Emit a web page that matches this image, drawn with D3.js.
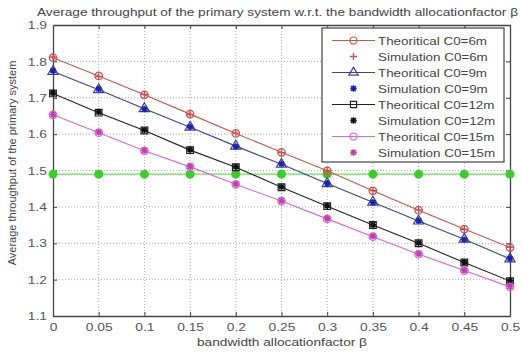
<html>
<head>
<meta charset="utf-8">
<script src="https://d3js.org/d3.v7.min.js"></script>
<style>
 body { margin:0; background:#fff; }
 text { font-family: "Liberation Sans", Arial, sans-serif; }
</style>
</head>
<body>
<div id="output"></div>
<script>
// data
var betas = [0, 0.05, 0.1, 0.15, 0.2, 0.25, 0.3, 0.35, 0.4, 0.45, 0.5];
var xTicks = ["0","0.05","0.1","0.15","0.2","0.25","0.3","0.35","0.4","0.45","0.5"];
var yTicks = [1.1, 1.2, 1.3, 1.4, 1.5, 1.6, 1.7, 1.8, 1.9];
var theo6  = [1.810, 1.760, 1.708, 1.655, 1.602, 1.550, 1.499, 1.444, 1.391, 1.339, 1.288];
var sim6   = [1.812, 1.758, 1.709, 1.654, 1.603, 1.549, 1.500, 1.445, 1.392, 1.338, 1.289];
var theo9  = [1.772, 1.722, 1.670, 1.619, 1.567, 1.517, 1.464, 1.413, 1.361, 1.311, 1.257];
var sim9   = [1.774, 1.724, 1.669, 1.620, 1.566, 1.518, 1.465, 1.412, 1.362, 1.310, 1.258];
var theo12 = [1.712, 1.659, 1.610, 1.556, 1.509, 1.454, 1.402, 1.350, 1.300, 1.247, 1.196];
var sim12  = [1.713, 1.661, 1.611, 1.557, 1.510, 1.455, 1.403, 1.351, 1.301, 1.248, 1.197];
var theo15 = [1.653, 1.604, 1.554, 1.510, 1.462, 1.416, 1.367, 1.318, 1.270, 1.225, 1.180];
var sim15  = [1.654, 1.605, 1.555, 1.511, 1.463, 1.417, 1.368, 1.319, 1.271, 1.226, 1.181];
var primary = [1.49, 1.49, 1.49, 1.49, 1.49, 1.49, 1.49, 1.49, 1.49, 1.49, 1.49];
var labels = ["Theoritical C0=6m","Simulation C0=6m","Theoritical C0=9m","Simulation C0=9m",
              "Theoritical C0=12m","Simulation C0=12m","Theoritical C0=15m","Simulation C0=15m"];

var W = 521, H = 354;
var pLeft = 53, pRight = 510, pTop = 25, pBottom = 316;

var svg = d3.select("#output").append("svg")
  .attr("width", W).attr("height", H);

var x = d3.scaleLinear().domain([0, 0.5]).range([pLeft, pRight]);
var y = d3.scaleLinear().domain([1.1, 1.9]).range([pBottom, pTop]);

// the source image is a bit stretched sideways, so widen text to match
function widen(sel, f) {
  sel.each(function() {
    var w = this.getComputedTextLength();
    d3.select(this).attr("textLength", w * f).attr("lengthAdjust", "spacingAndGlyphs");
  });
}

// grid
svg.append("g").selectAll("line").data(betas.slice(1, -1)).enter().append("line")
  .attr("x1", d => x(d)).attr("x2", d => x(d)).attr("y1", pTop).attr("y2", pBottom)
  .attr("stroke", "#aaa").attr("stroke-dasharray", "1,2");
svg.append("g").selectAll("line").data(yTicks.slice(1, -1)).enter().append("line")
  .attr("y1", d => y(d)).attr("y2", d => y(d)).attr("x1", pLeft).attr("x2", pRight)
  .attr("stroke", "#aaa").attr("stroke-dasharray", "1,2");

// axes (matlab box, ticks inside)
svg.append("g").attr("transform", "translate(0," + pBottom + ")")
  .call(d3.axisBottom(x).tickValues(betas).tickFormat((d, i) => xTicks[i]).tickSizeInner(-4).tickSizeOuter(0).tickPadding(7));
svg.append("g").attr("transform", "translate(0," + pTop + ")")
  .call(d3.axisTop(x).tickValues(betas).tickFormat("").tickSizeInner(-4).tickSizeOuter(0));
svg.append("g").attr("transform", "translate(" + pLeft + ",0)")
  .call(d3.axisLeft(y).tickValues(yTicks).tickFormat(d3.format(".1f")).tickSizeInner(-4).tickSizeOuter(0).tickPadding(6));
svg.append("g").attr("transform", "translate(" + pRight + ",0)")
  .call(d3.axisRight(y).tickValues(yTicks).tickFormat("").tickSizeInner(-4).tickSizeOuter(0));
svg.selectAll(".domain").attr("stroke", "#444").attr("stroke-width", 1.3);
svg.selectAll(".tick line").attr("stroke", "#444");
svg.selectAll(".tick text").style("font-size", "11.5px").attr("fill", "#555")
  .attr("font-family", "Liberation Sans, Arial, sans-serif");
widen(svg.selectAll(".tick text"), 1.2);

// marker helpers
function marker(g, type, color, size) {
  if (type === "circle" || type === "triangle" || type === "square") {
    var sym = {circle: d3.symbolCircle, triangle: d3.symbolTriangle, square: d3.symbolSquare}[type];
    g.append("path").attr("d", d3.symbol().type(sym).size(size || 45))
      .attr("fill", "none").attr("stroke", color).attr("stroke-width", 1.2);
  } else if (type === "dot") {
    g.append("circle").attr("r", 4.5).attr("fill", color);
  } else if (type === "plus") {
    g.append("path").attr("d", "M-3.5,0H3.5M0,-3.5V3.5").attr("stroke", color).attr("stroke-width", 1.3);
  } else if (type === "star") {
    g.append("path").attr("d", "M-3.2,0H3.2M0,-3.2V3.2M-2.4,-2.4L2.4,2.4M-2.4,2.4L2.4,-2.4")
      .attr("stroke", color).attr("stroke-width", 1.6);
  }
}

var line = d3.line().x((d, i) => x(betas[i])).y(d => y(d));

var series = [
  {vals: theo6,  color: "#c8584c", mk: "circle", line: true},
  {vals: sim6,   color: "#d04858", mk: "plus",   line: false},
  {vals: theo9,  color: "#3a4590", mk: "triangle", line: true},
  {vals: sim9,   color: "#2020b0", mk: "star",   line: false},
  {vals: theo12, color: "#222",    mk: "square", line: true},
  {vals: sim12,  color: "#111",    mk: "star",   line: false},
  {vals: theo15, color: "#d866d8", mk: "circle", line: true},
  {vals: sim15,  color: "#c040b0", mk: "star",   line: false}
];

// green primary line
svg.append("path").attr("d", line(primary)).attr("fill", "none")
  .attr("stroke", "#66e050").attr("stroke-width", 1.3);
primary.forEach(function(v, i) {
  marker(svg.append("g").attr("transform", "translate(" + x(betas[i]) + "," + y(v) + ")"), "dot", "#3ccc2c");
});

series.forEach(function(s) {
  if (s.line) {
    svg.append("path").attr("d", line(s.vals)).attr("fill", "none")
      .attr("stroke", s.color).attr("stroke-width", 1.1);
  }
  s.vals.forEach(function(v, i) {
    marker(svg.append("g").attr("transform", "translate(" + x(betas[i]) + "," + y(v) + ")"), s.mk, s.color);
  });
});

// legend
var lg = svg.append("g");
lg.append("rect").attr("x", 322).attr("y", 28).attr("width", 182).attr("height", 134)
  .attr("fill", "#fff").attr("stroke", "#444").attr("stroke-width", 1.2);
series.forEach(function(s, i) {
  var ly = 40.5 + i * 16;
  if (s.line) {
    lg.append("line").attr("x1", 332).attr("x2", 375).attr("y1", ly).attr("y2", ly)
      .attr("stroke", s.color).attr("stroke-width", 1.1);
  }
  marker(lg.append("g").attr("transform", "translate(353.5," + ly + ")"), s.mk, s.color, 38);
  lg.append("text").attr("class", "lgt").attr("x", 378).attr("y", ly + 4).style("font-size", "11.5px")
    .attr("fill", "#444").text(labels[i]);
});
var lgTexts = lg.selectAll(".lgt");
var firstW = lgTexts.node().getComputedTextLength();
widen(lgTexts, 109 / firstW);

// titles
var t = svg.append("text").attr("x", 37).attr("y", 16)
  .style("font-size", "11.5px").attr("fill", "#444")
  .text("Average throughput of the primary system w.r.t. the bandwidth allocationfactor \u03b2");
t.attr("textLength", 481).attr("lengthAdjust", "spacingAndGlyphs");
var xl = svg.append("text").attr("x", 197).attr("y", 346)
  .style("font-size", "11px").attr("fill", "#444")
  .text("bandwidth allocationfactor \u03b2");
xl.attr("textLength", 170).attr("lengthAdjust", "spacingAndGlyphs");
svg.append("text").attr("transform", "translate(16,163) rotate(-90)")
  .attr("text-anchor", "middle").style("font-size", "11px").attr("fill", "#444")
  .text("Average throughput of the primary system");
</script>
</body>
</html>
